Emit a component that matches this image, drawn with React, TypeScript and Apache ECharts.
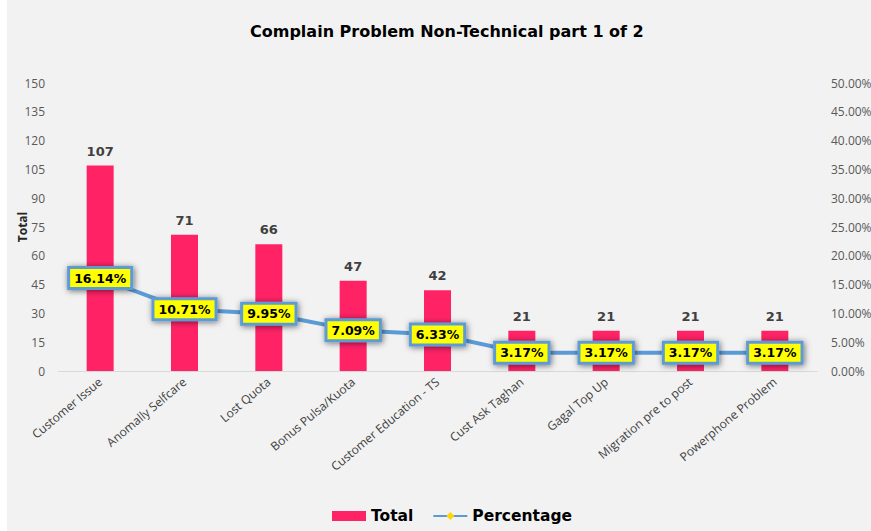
import React, { useEffect, useRef } from "react";
import * as echarts from "echarts";

const categories = [
  "Customer Issue",
  "Anomally Selfcare",
  "Lost Quota",
  "Bonus Pulsa/Kuota",
  "Customer Education - TS",
  "Cust Ask Taghan",
  "Gagal Top Up",
  "Migration pre to post",
  "Powerphone Problem",
];
const totals = [107, 71, 66, 47, 42, 21, 21, 21, 21];
const percentages = [16.14, 10.71, 9.95, 7.09, 6.33, 3.17, 3.17, 3.17, 3.17];

const FONT = "'Open Sans', 'Noto Sans', sans-serif";
const BOLD = "'DejaVu Sans', Verdana, sans-serif";

export default function App() {
  const ref = useRef<HTMLDivElement>(null);
  useEffect(() => {
    if (!ref.current) return;
    const chart = echarts.init(ref.current, null, { renderer: "svg" });
    chart.setOption({
      animation: false,
      backgroundColor: "#f2f2f2",
      textStyle: { fontFamily: FONT },
      title: {
        text: "Complain Problem Non-Technical part 1 of 2",
        left: 238,
        top: 18,
        textStyle: { fontSize: 16, fontWeight: "bold", color: "#000", fontFamily: BOLD },
      },
      legend: {
        bottom: 2,
        left: 320,
        itemGap: 19,
        itemWidth: 34,
        itemHeight: 10,
        textStyle: { fontSize: 15.5, fontWeight: "bold", color: "#000", fontFamily: BOLD },
        data: [
          { name: "Total", icon: "rect" },
          { name: "Percentage" },
        ],
      },
      grid: { left: 51, right: 54, top: 83, bottom: 160, outerBoundsMode: "none" },
      xAxis: {
        type: "category",
        data: categories,
        axisLine: { lineStyle: { color: "#d9d9d9", width: 1 } },
        axisTick: { show: false },
        axisLabel: {
          rotate: 40,
          interval: 0,
          fontSize: 12,
          color: "#404040",
          margin: 9,
          fontFamily: FONT,
        },
      },
      yAxis: [
        {
          type: "value",
          min: 0,
          max: 150,
          interval: 15,
          name: "Total",
          nameLocation: "middle",
          nameGap: 30,
          nameRotate: 90,
          nameMoveOverlap: false,
          nameTextStyle: { fontSize: 12, fontWeight: "bold", color: "#262626", fontFamily: FONT },
          axisLine: { show: false },
          axisTick: { show: false },
          splitLine: { show: false },
          axisLabel: {
            fontSize: 12,
            color: "#595959",
            margin: 13,
            fontFamily: FONT,
          },
        },
        {
          type: "value",
          min: 0,
          max: 50,
          interval: 5,
          axisLine: { show: false },
          axisTick: { show: false },
          splitLine: { show: false },
          axisLabel: {
            fontSize: 12,
            color: "#595959",
            margin: 14,
            fontFamily: FONT,
            formatter: (v: number) => v.toFixed(2) + "%",
          },
        },
      ],
      series: [
        {
          name: "Total",
          type: "bar",
          data: totals,
          barWidth: 27,
          itemStyle: { color: "#ff2366" },
          label: {
            show: true,
            position: "top",
            distance: 8,
            fontSize: 13,
            fontWeight: "bold",
            color: "#404040",
            fontFamily: BOLD,
          },
        },
        {
          name: "Percentage",
          type: "line",
          yAxisIndex: 1,
          data: percentages,
          symbol: "diamond",
          symbolSize: 8,
          itemStyle: { color: "#ffd700" },
          lineStyle: { color: "#5b9bd5", width: 4 },
          label: {
            show: true,
            position: "inside",
            formatter: (p: any) => p.value.toFixed(2) + "%",
            fontSize: 12.5,
            fontWeight: "bold",
            color: "#000",
            fontFamily: BOLD,
            backgroundColor: "#ffff00",
            borderColor: "#5b9bd5",
            borderWidth: 3,
            padding: [3, 4, 2, 4],
            shadowColor: "rgba(0,0,0,0.55)",
            shadowBlur: 6,
            shadowOffsetX: 1,
            shadowOffsetY: 1,
          },
        },
      ],
    });
    return () => chart.dispose();
  }, []);
  return (
    <div
      ref={ref}
      style={{ position: "fixed", left: 7, top: 0, width: 864, height: 531 }}
    />
  );
}
